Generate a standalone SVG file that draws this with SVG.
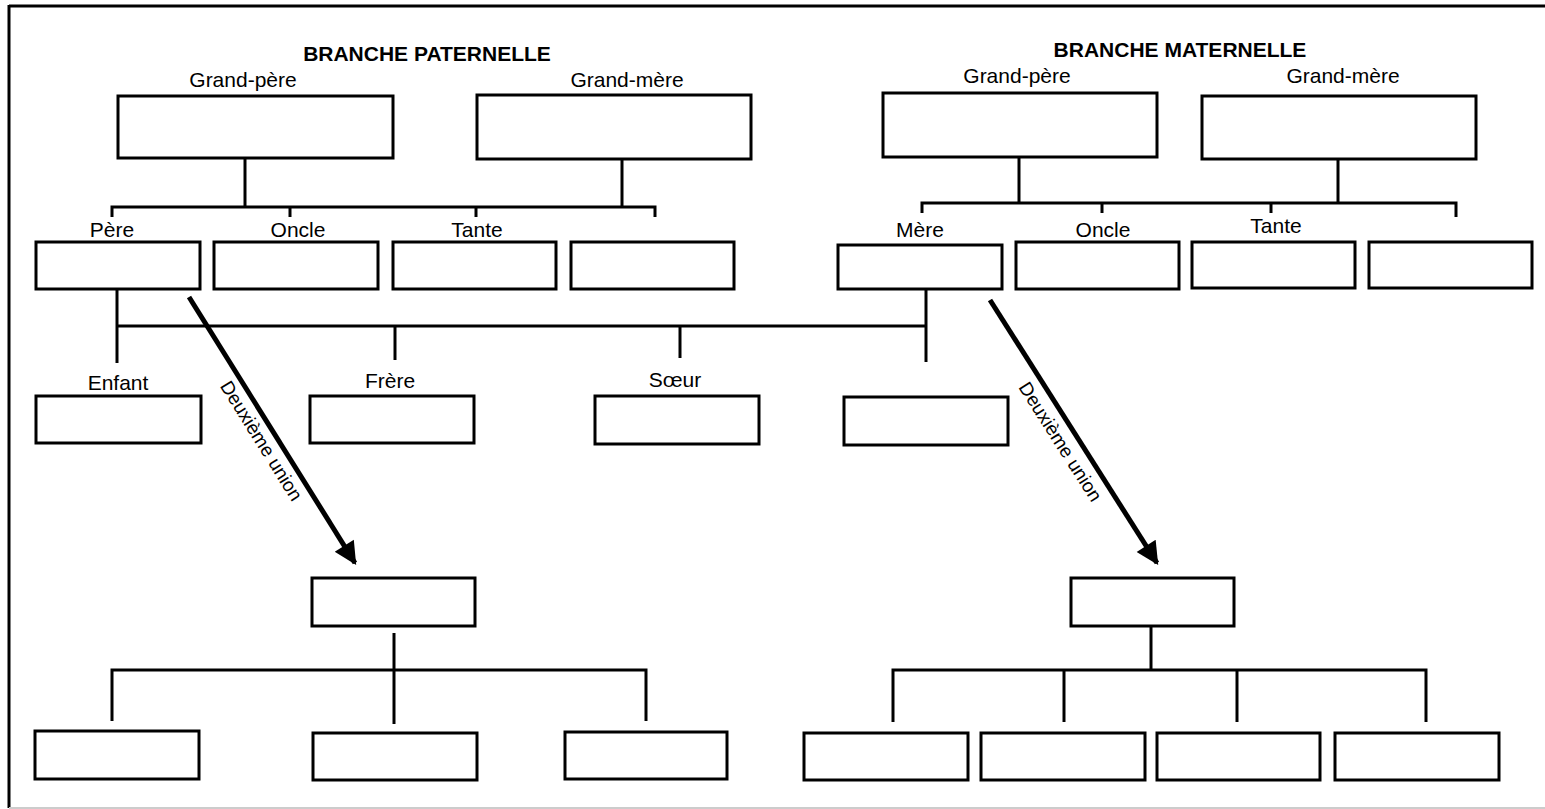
<svg xmlns="http://www.w3.org/2000/svg" width="1545" height="809" viewBox="0 0 1545 809">
<style>
.box{fill:#fff;stroke:#000;stroke-width:3}
.ln{fill:none;stroke:#000;stroke-width:3}
.lbl{font-family:"Liberation Sans",Arial,sans-serif;font-size:21px;fill:#000;text-anchor:middle}
.hd{font-family:"Liberation Sans",Arial,sans-serif;font-size:21px;font-weight:bold;fill:#000;text-anchor:middle}
.arr{fill:none;stroke:#000;stroke-width:5}
.au{font-family:"Liberation Sans",Arial,sans-serif;font-size:19px;fill:#000;text-anchor:middle}
</style>
<defs>
<marker id="ah" viewBox="0 0 10 10" refX="9" refY="5" markerWidth="5.5" markerHeight="4.5" markerUnits="strokeWidth" orient="auto">
<path d="M0,0 L10,5 L0,10 Z" fill="#000"/>
</marker>
</defs>
<rect width="1545" height="809" fill="#fff"/>
<g id="frame">
<line x1="9" y1="6" x2="1545" y2="6" stroke="#000" stroke-width="3"/>
<line x1="9" y1="5" x2="9" y2="808" stroke="#000" stroke-width="3"/>
<line x1="9" y1="808" x2="1545" y2="808" stroke="#ccc" stroke-width="2"/>
</g>
<g id="headings">
<text class="hd" x="427" y="61">BRANCHE PATERNELLE</text>
<text class="hd" x="1180" y="57">BRANCHE MATERNELLE</text>
</g>
<g id="connectors">
<polyline class="ln" points="112,217 112,207 655,207 655,217"/>
<line class="ln" x1="245" y1="158" x2="245" y2="207"/>
<line class="ln" x1="622" y1="159" x2="622" y2="207"/>
<line class="ln" x1="290" y1="207" x2="290" y2="217"/>
<line class="ln" x1="476" y1="207" x2="476" y2="217"/>
<polyline class="ln" points="922,213 922,203 1456,203 1456,217"/>
<line class="ln" x1="1019" y1="157" x2="1019" y2="203"/>
<line class="ln" x1="1338" y1="159" x2="1338" y2="203"/>
<line class="ln" x1="1102" y1="203" x2="1102" y2="213"/>
<line class="ln" x1="1271" y1="203" x2="1271" y2="213"/>
<line class="ln" x1="117" y1="289" x2="117" y2="363"/>
<line class="ln" x1="926" y1="289" x2="926" y2="362"/>
<line class="ln" x1="117" y1="326" x2="926" y2="326"/>
<line class="ln" x1="395" y1="326" x2="395" y2="360"/>
<line class="ln" x1="680" y1="326" x2="680" y2="358"/>
<line class="ln" x1="394" y1="633" x2="394" y2="724"/>
<polyline class="ln" points="112,721 112,670 646,670 646,721"/>
<line class="ln" x1="1151" y1="626" x2="1151" y2="670"/>
<polyline class="ln" points="893,722 893,670 1426,670 1426,722"/>
<line class="ln" x1="1064" y1="670" x2="1064" y2="722"/>
<line class="ln" x1="1237" y1="670" x2="1237" y2="722"/>
<line class="arr" x1="189" y1="297" x2="355" y2="563" marker-end="url(#ah)"/>
<line class="arr" x1="990" y1="300" x2="1157" y2="563" marker-end="url(#ah)"/>
</g>
<g id="arrow-labels">
<g transform="translate(261,441) rotate(58)"><text class="au" x="0" y="6">Deuxième union</text></g>
<g transform="translate(1060,442) rotate(57.5)"><text class="au" x="0" y="6">Deuxième union</text></g>
</g>
<g id="p-grandpere"><text class="lbl" x="243" y="87">Grand-père</text><rect class="box" x="118" y="96" width="275" height="62"/></g>
<g id="p-grandmere"><text class="lbl" x="627" y="87">Grand-mère</text><rect class="box" x="477" y="95" width="274" height="64"/></g>
<g id="m-grandpere"><text class="lbl" x="1017" y="83">Grand-père</text><rect class="box" x="883" y="93" width="274" height="64"/></g>
<g id="m-grandmere"><text class="lbl" x="1343" y="83">Grand-mère</text><rect class="box" x="1202" y="96" width="274" height="63"/></g>
<g id="pere"><text class="lbl" x="112" y="237">Père</text><rect class="box" x="36" y="242" width="164" height="47"/></g>
<g id="p-oncle"><text class="lbl" x="298" y="237">Oncle</text><rect class="box" x="214" y="242" width="164" height="47"/></g>
<g id="p-tante"><text class="lbl" x="477" y="237">Tante</text><rect class="box" x="393" y="242" width="163" height="47"/></g>
<g id="p-autre"><rect class="box" x="571" y="242" width="163" height="47"/></g>
<g id="mere"><text class="lbl" x="920" y="237">Mère</text><rect class="box" x="838" y="245" width="164" height="44"/></g>
<g id="m-oncle"><text class="lbl" x="1103" y="237">Oncle</text><rect class="box" x="1016" y="242" width="163" height="47"/></g>
<g id="m-tante"><text class="lbl" x="1276" y="233">Tante</text><rect class="box" x="1192" y="242" width="163" height="46"/></g>
<g id="m-autre"><rect class="box" x="1369" y="242" width="163" height="46"/></g>
<g id="enfant"><text class="lbl" x="118" y="390">Enfant</text><rect class="box" x="36" y="396" width="165" height="47"/></g>
<g id="frere"><text class="lbl" x="390" y="388">Frère</text><rect class="box" x="310" y="396" width="164" height="47"/></g>
<g id="soeur"><text class="lbl" x="675" y="387">Sœur</text><rect class="box" x="595" y="396" width="164" height="48"/></g>
<g id="fratrie4"><rect class="box" x="844" y="397" width="164" height="48"/></g>
<g id="p-union2"><rect class="box" x="312" y="578" width="163" height="48"/></g>
<g id="m-union2"><rect class="box" x="1071" y="578" width="163" height="48"/></g>
<g id="p-enfant1"><rect class="box" x="35" y="731" width="164" height="48"/></g>
<g id="p-enfant2"><rect class="box" x="313" y="733" width="164" height="47"/></g>
<g id="p-enfant3"><rect class="box" x="565" y="732" width="162" height="47"/></g>
<g id="m-enfant1"><rect class="box" x="804" y="733" width="164" height="47"/></g>
<g id="m-enfant2"><rect class="box" x="981" y="733" width="164" height="47"/></g>
<g id="m-enfant3"><rect class="box" x="1157" y="733" width="163" height="47"/></g>
<g id="m-enfant4"><rect class="box" x="1335" y="733" width="164" height="47"/></g>
</svg>
